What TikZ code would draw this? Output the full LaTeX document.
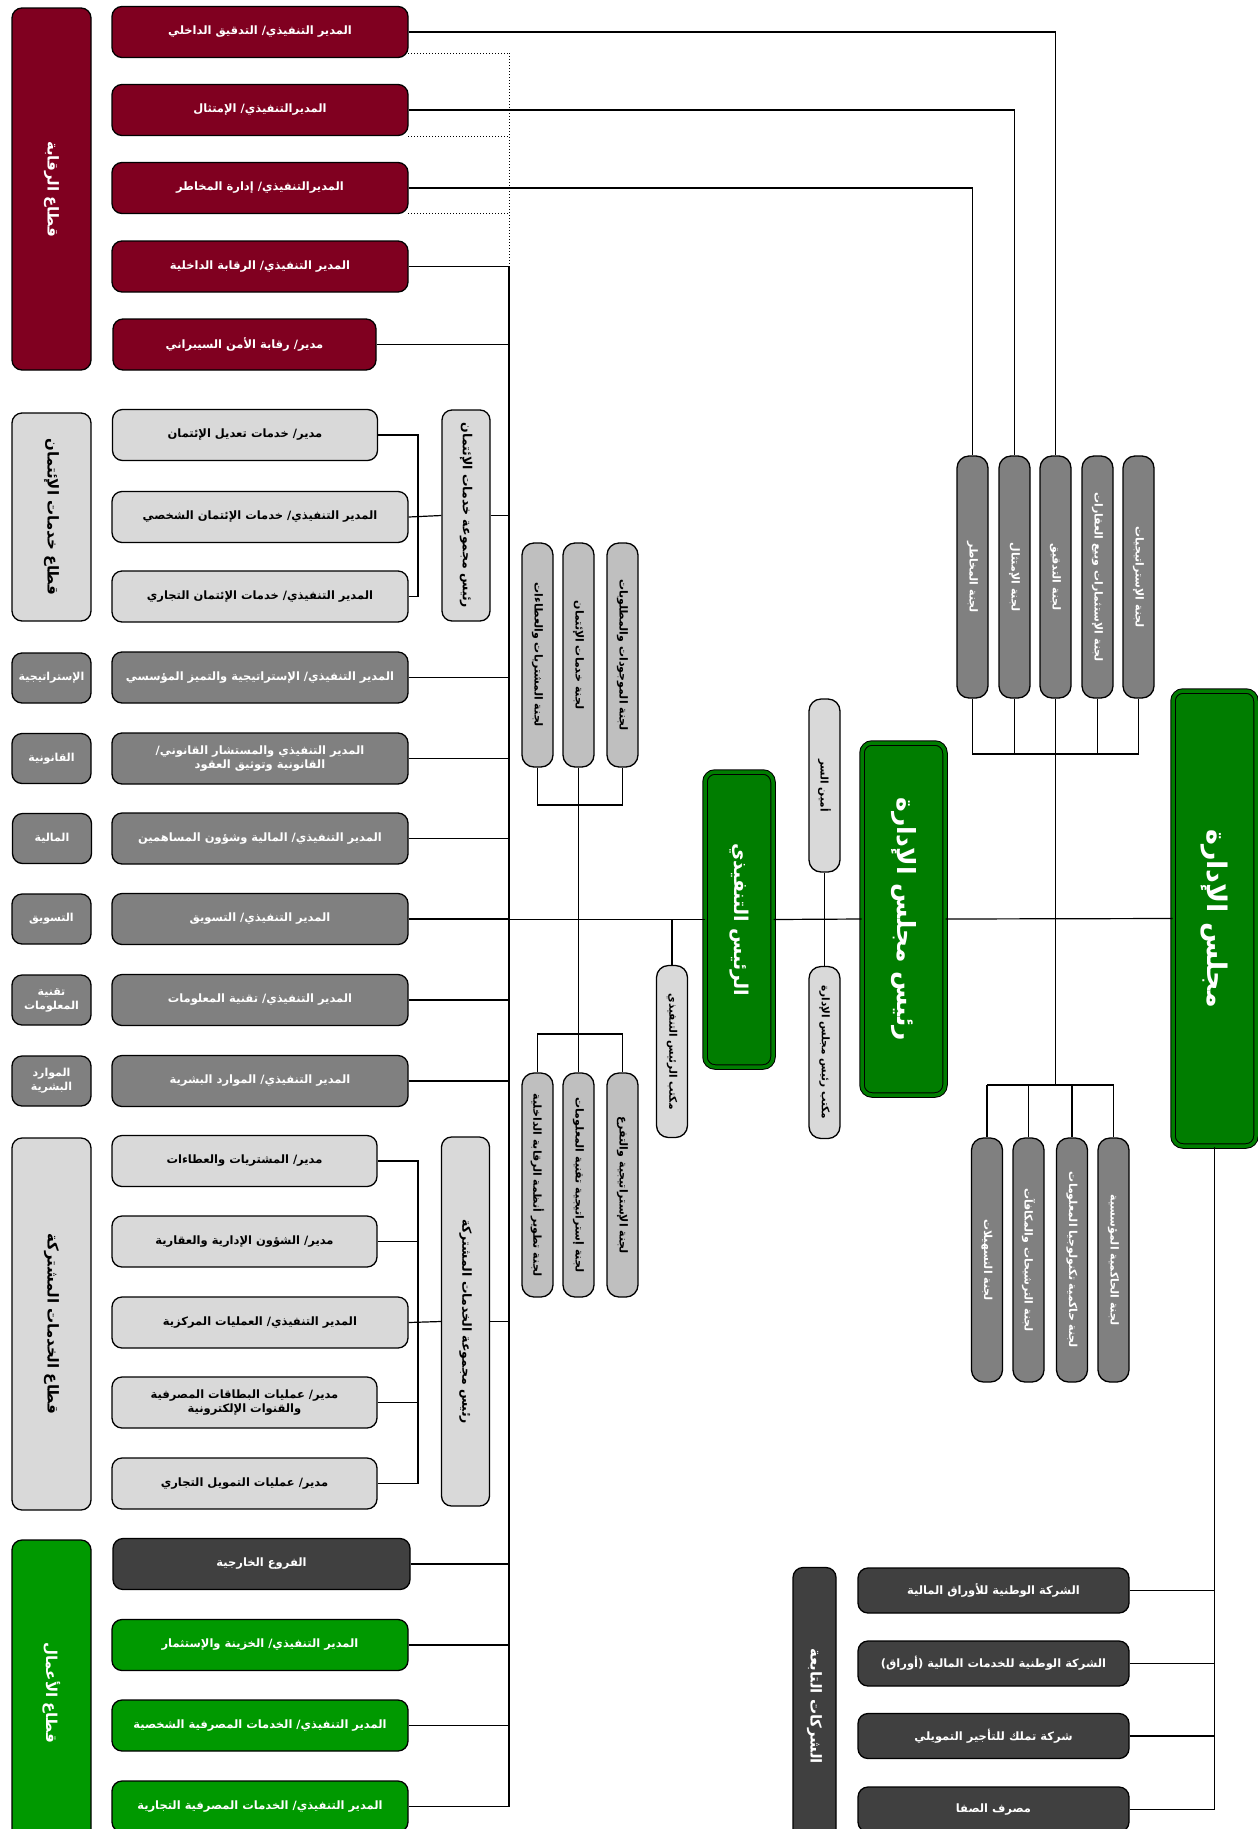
\documentclass[tikz,border=0pt]{standalone}
\usepackage{fontspec}
\newfontfamily\arabicfont[Script=Arabic]{DejaVu Sans}
\TeXXeTstate=1
\newcommand{\artxt}[1]{\beginR #1\endR}
\usetikzlibrary{calc}
\definecolor{ctrlred}{RGB}{128,0,32}
\definecolor{palegray}{RGB}{217,217,217}
\definecolor{staffgray}{RGB}{128,128,128}
\definecolor{cmtegray}{RGB}{191,191,191}
\definecolor{branchgray}{RGB}{64,64,64}
\definecolor{bizgreen}{RGB}{0,153,0}
\definecolor{chiefgreen}{RGB}{0,125,0}
\tikzset{
box/.style={rounded corners=10pt,draw=black,line width=1.3pt,align=center,inner sep=1pt,
  font=\arabicfont\bfseries\fontsize{11.5}{14}\selectfont},
exec/.style={box,minimum width=296,minimum height=51},
mgr/.style={box,minimum width=265,minimum height=51},
redfill/.style={fill=ctrlred,text=white},
palefill/.style={fill=palegray,text=black},
grayfill/.style={fill=staffgray,text=white},
darkfill/.style={fill=branchgray,text=white},
greenfill/.style={fill=bizgreen,text=white},
sector/.style={box,rotate=-90,minimum height=79,font=\arabicfont\bfseries\fontsize{15}{18}\selectfont},
unit/.style={box,grayfill,minimum width=79,minimum height=50,font=\arabicfont\bfseries\fontsize{11}{14}\selectfont},
group/.style={box,palefill,rotate=-90,minimum height=48,font=\arabicfont\bfseries\fontsize{12.5}{15}\selectfont},
cmte/.style={box,rotate=-90,rounded corners=12pt,minimum height=31,minimum width=224,
  font=\arabicfont\bfseries\fontsize{11}{14}\selectfont},
office/.style={box,palefill,rotate=-90,rounded corners=12pt,minimum height=31,minimum width=172,
  font=\arabicfont\bfseries\fontsize{10.5}{13}\selectfont},
chief/.style={box,rotate=-90,line width=1pt,double=chiefgreen,double distance=3.5pt,fill=chiefgreen,text=white},
sub/.style={box,darkfill,minimum width=271,minimum height=45},
link/.style={line width=1.2pt},
dotline/.style={line width=1pt,dotted},
}

\begin{document}
\begin{tikzpicture}[x=1pt,y=-1pt]
\useasboundingbox (0,0) rectangle (1258,1829);

\node[sector,redfill,minimum width=362] (secCtrl) at (51.5,189) {\artxt{قطاع الرقابة}};
\node[sector,palefill,minimum width=208] (secCredit) at (51.5,517) {\artxt{قطاع خدمات الإئتمان}};
\node[unit] (secStrat) at (51.5,678) {\artxt{الإستراتيجية}};
\node[unit] (secLegal) at (51.5,758.5) {\artxt{القانونية}};
\node[unit] (secFin) at (52,838.5) {\artxt{المالية}};
\node[unit] (secMkt) at (51.5,919) {\artxt{التسويق}};
\node[unit] (secIT) at (51.5,1000) {\artxt{تقنية}\\\artxt{المعلومات}};
\node[unit] (secHR) at (51.5,1081) {\artxt{الموارد}\\\artxt{البشرية}};
\node[sector,palefill,minimum width=372] (secShared) at (51.5,1324) {\artxt{قطاع الخدمات المشتركة}};
\node[sector,greenfill,minimum width=305] (secBiz) at (51.5,1692.5) {\artxt{قطاع الأعمال}};

\node[exec,redfill] (dAudit) at (260,32) {\artxt{المدير التنفيذي/ التدقيق الداخلي}};
\node[exec,redfill] (dComp) at (260,110) {\artxt{المديرالتنفيذي/ الإمتثال}};
\node[exec,redfill] (dRisk) at (260,188) {\artxt{المديرالتنفيذي/ إدارة المخاطر}};
\node[exec,redfill] (dIntCtrl) at (260,266.5) {\artxt{المدير التنفيذي/ الرقابة الداخلية}};
\node[mgr,redfill,minimum width=263] (dCyber) at (244.5,344.5) {\artxt{مدير/ رقابة الأمن السيبراني}};

\node[mgr,palefill] (cr1) at (245,435) {\artxt{مدير/ خدمات تعديل الإئتمان}};
\node[exec,palefill] (cr2) at (260,517) {\artxt{المدير التنفيذي/ خدمات الإئتمان الشخصي}};
\node[exec,palefill] (cr3) at (260,596.5) {\artxt{المدير التنفيذي/ خدمات الإئتمان التجاري}};
\node[group,minimum width=211] (grpCredit) at (466,515.5) {\artxt{رئيس مجموعة خدمات الإئتمان}};

\node[exec,grayfill] (dStrat) at (260,677.5) {\artxt{المدير التنفيذي/ الإستراتيجية والتميز المؤسسي}};
\node[exec,grayfill] (dLegal) at (260,758.5) {\artxt{المدير التنفيذي والمستشار القانوني/}\\\artxt{القانونية وتوثيق العقود}};
\node[exec,grayfill] (dFin) at (260,838.5) {\artxt{المدير التنفيذي/ المالية وشؤون المساهمين}};
\node[exec,grayfill] (dMkt) at (260,919) {\artxt{المدير التنفيذي/ التسويق}};
\node[exec,grayfill] (dIT) at (260,1000) {\artxt{المدير التنفيذي/ تقنية المعلومات}};
\node[exec,grayfill] (dHR) at (260,1081) {\artxt{المدير التنفيذي/ الموارد البشرية}};

\node[mgr,palefill] (sh1) at (244.5,1161) {\artxt{مدير/ المشتريات والعطاءات}};
\node[mgr,palefill] (sh2) at (244.5,1241.5) {\artxt{مدير/ الشؤون الإدارية والعقارية}};
\node[exec,palefill] (sh3) at (260,1322.5) {\artxt{المدير التنفيذي/ العمليات المركزية}};
\node[mgr,palefill] (sh4) at (244.5,1402.5) {\artxt{مدير/ عمليات البطاقات المصرفية}\\\artxt{والقنوات الإلكترونية}};
\node[mgr,palefill] (sh5) at (244.5,1483.5) {\artxt{مدير/ عمليات التمويل التجاري}};
\node[group,minimum width=369] (grpShared) at (465.5,1321.5) {\artxt{رئيس مجموعة الخدمات المشتركة}};

\node[exec,darkfill,minimum width=297] (dBranch) at (261.5,1564) {\artxt{الفروع الخارجية}};
\node[exec,greenfill] (dTreas) at (260,1645) {\artxt{المدير التنفيذي/ الخزينة والإستثمار}};
\node[exec,greenfill] (dRetail) at (260,1725.5) {\artxt{المدير التنفيذي/ الخدمات المصرفية الشخصية}};
\node[exec,greenfill] (dCorp) at (260,1806.5) {\artxt{المدير التنفيذي/ الخدمات المصرفية التجارية}};

\node[cmte,fill=cmtegray] (cmA) at (537.5,655) {\artxt{لجنة المشتريات والعطاءات}};
\node[cmte,fill=cmtegray] (cmB) at (578.5,655) {\artxt{لجنة خدمات الإئتمان}};
\node[cmte,fill=cmtegray] (cmC) at (622.5,655) {\artxt{لجنة الموجودات والمطلوبات}};
\node[cmte,fill=cmtegray] (cmD) at (537.5,1185) {\artxt{لجنة تطوير أنظمة الرقابة الداخلية}};
\node[cmte,fill=cmtegray] (cmE) at (578.5,1185) {\artxt{لجنة إستراتيجية تقنية المعلومات}};
\node[cmte,fill=cmtegray] (cmF) at (622.5,1185) {\artxt{لجنة الإستراتيجية والتفرع}};

\node[office] (ceoOffice) at (672,1051.5) {\artxt{مكتب الرئيس التنفيذي}};
\node[chief,minimum width=295,minimum height=68,font=\arabicfont\bfseries\fontsize{19}{22}\selectfont] (ceo) at (739,919.5) {\artxt{الرئيس التنفيذي}};
\node[office,minimum width=173] (secretary) at (824.5,785.5) {\artxt{أمين السر}};
\node[office] (chairOffice) at (824.5,1052.5) {\artxt{مكتب رئيس مجلس الإدارة}};
\node[chief,minimum width=352,minimum height=83,font=\arabicfont\bfseries\fontsize{25}{28}\selectfont] (chair) at (903.5,919) {\artxt{رئيس مجلس الإدارة}};
\node[chief,minimum width=455,minimum height=83,font=\arabicfont\bfseries\fontsize{27}{30}\selectfont] (board) at (1214.5,918.5) {\artxt{مجلس الإدارة}};

\node[cmte,grayfill,minimum width=242] (rc1) at (972.5,577) {\artxt{لجنة المخاطر}};
\node[cmte,grayfill,minimum width=242] (rc2) at (1014.5,577) {\artxt{لجنة الإمتثال}};
\node[cmte,grayfill,minimum width=242] (rc3) at (1055.5,577) {\artxt{لجنة التدقيق}};
\node[cmte,grayfill,minimum width=242] (rc4) at (1097.5,577) {\artxt{لجنة الإستثمارات وبيع العقارات}};
\node[cmte,grayfill,minimum width=242] (rc5) at (1138.5,577) {\artxt{لجنة الإستراتيجيات}};
\node[cmte,grayfill,minimum width=244] (bc1) at (987,1260) {\artxt{لجنة التسهيلات}};
\node[cmte,grayfill,minimum width=244] (bc2) at (1028.5,1260) {\artxt{لجنة الترشيحات والمكافآت}};
\node[cmte,grayfill,minimum width=244] (bc3) at (1072,1260) {\artxt{لجنة حاكمية تكنولوجيا المعلومات}};
\node[cmte,grayfill,minimum width=244] (bc4) at (1113.5,1260) {\artxt{لجنة الحاكمية المؤسسية}};

\node[sector,darkfill,minimum height=43,minimum width=277] (secSub) at (814.5,1706) {\artxt{الشركات التابعة}};
\node[sub] (sub1) at (993.5,1590.5) {\artxt{الشركة الوطنية للأوراق المالية}};
\node[sub] (sub2) at (993.5,1663.5) {\artxt{الشركة الوطنية للخدمات المالية (أوراق)}};
\node[sub] (sub3) at (993.5,1736) {\artxt{شركة تملك للتأجير التمويلي}};
\node[sub] (sub4) at (993.5,1809.5) {\artxt{مصرف الصفا}};

\coordinate (tTop) at (509,266.5);
\coordinate (dotA) at (408,53);
\coordinate (dotB) at (408,136);
\coordinate (dotC) at (408,213);
\coordinate (crBar) at (418,435);
\coordinate (shBar) at (418,1161);
\coordinate (cmTopJ) at (578.5,805);
\coordinate (cmBotJ) at (578.5,1034);
\coordinate (rcJ) at (972.5,754);
\coordinate (bcJ) at (987,1085);

\draw[link] (dAudit.east) -| (rc3.west);
\draw[link] (dComp.east) -| (rc2.west);
\draw[link] (dRisk.east) -| (rc1.west);
\draw[dotline] (dotA) -- (dotA -| tTop) (dotB) -- (dotB -| tTop) (dotC) -- (dotC -| tTop) (dotA -| tTop) -- (tTop);
\draw[link] (dIntCtrl.east) -- (tTop) -- (tTop |- dCorp.east) -- (dCorp.east);
\foreach \n in {dCyber,dStrat,dLegal,dFin,dMkt,dIT,dHR,dBranch,dTreas,dRetail}
  \draw[link] (\n.east) -- (\n.east -| tTop);
\draw[link] (grpCredit.north) -- (grpCredit.north -| tTop);
\draw[link] (grpShared.north) -- (grpShared.north -| tTop);

\draw[link] (cr1.east) -- (crBar) -- (crBar |- cr3.east) -- (cr3.east);
\draw[link] (cr2.east) -- (grpCredit.south);
\draw[link] (sh1.east) -- (shBar) -- (shBar |- sh5.east) -- (sh5.east);
\draw[link] (sh2.east) -- (sh2.east -| shBar);
\draw[link] (sh4.east) -- (sh4.east -| shBar);
\draw[link] (sh3.east) -- (grpShared.south);

\draw[link] (ceo.south -| tTop) -- (ceo.south);
\draw[link] (ceo.north) -- (chair.south);
\draw[link] (chair.north) -- (board.south);
\draw[link] (cmA.east) -- (cmA.east |- cmTopJ) -- (cmC.east |- cmTopJ) -- (cmC.east);
\draw[link] (cmB.east) -- (cmBotJ);
\draw[link] (cmD.west) -- (cmD.west |- cmBotJ) -- (cmF.west |- cmBotJ) -- (cmF.west);
\draw[link] (cmE.west) -- (cmBotJ);
\draw[link] (ceoOffice.west) -- (ceoOffice.west |- ceo.south);
\draw[link] (secretary.east) -- (chairOffice.west);

\draw[link] (rc1.east) -- (rcJ) -- (rc5.east |- rcJ) -- (rc5.east);
\foreach \n in {rc2,rc3,rc4}
  \draw[link] (\n.east) -- (\n.east |- rcJ);
\draw[link] (rc3.east |- rcJ) -- (rc3.east |- bcJ);
\draw[link] (bcJ) -- (bc4.west |- bcJ);
\foreach \n in {bc1,bc2,bc3,bc4}
  \draw[link] (\n.west) -- (\n.west |- bcJ);

\draw[link] (board.east) -- (board.east |- sub4.east) -- (sub4.east);
\foreach \n in {sub1,sub2,sub3}
  \draw[link] (\n.east) -- (\n.east -| board.east);
\end{tikzpicture}
\end{document}
